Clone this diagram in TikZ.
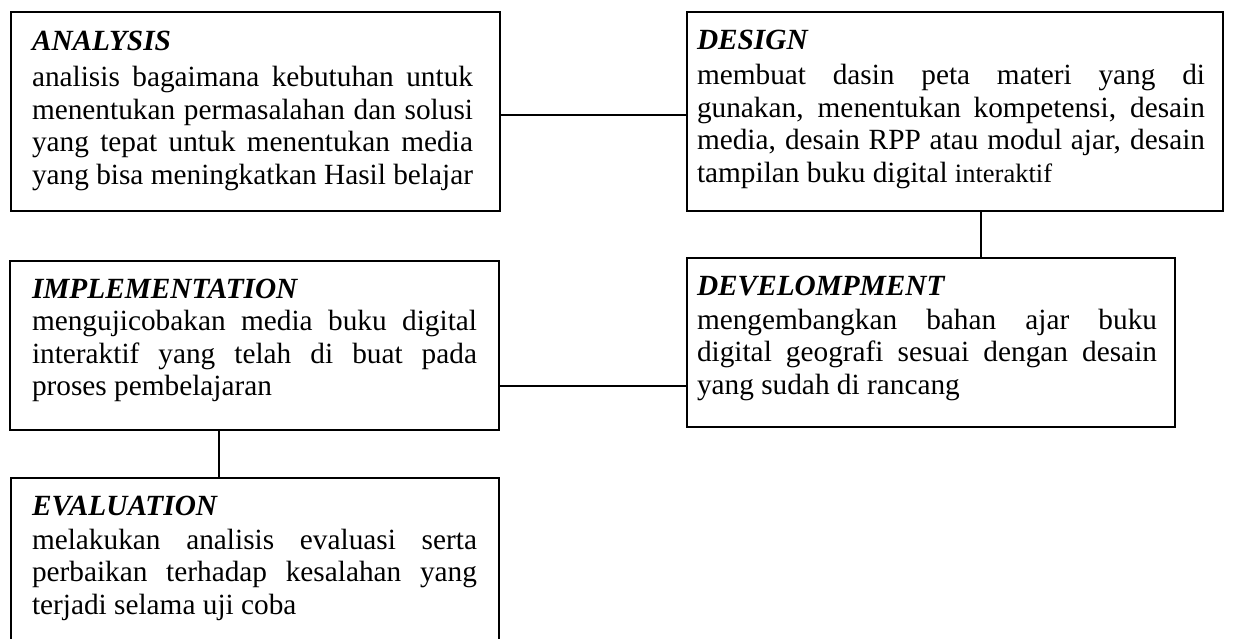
\documentclass[tikz,border=0pt]{standalone}
\usepackage{fontspec}
\setmainfont{Liberation Serif}
\hbadness=10000
\begin{document}
\begin{tikzpicture}[x=1pt,y=-1pt,
  stage/.style={draw, line width=1.8pt, inner sep=0pt, outer sep=0pt, anchor=north west},
  stagetext/.style={anchor=base west, inner sep=0pt, outer sep=0pt,
    font=\fontsize{29.3}{32.6}\selectfont},
  link/.style={line width=1.5pt}]
\useasboundingbox (0,0) rectangle (1233,638);

% stage boxes
\node[stage, minimum width=489pt, minimum height=199pt] (ana) at (11,12) {};
\node[stage, minimum width=536pt, minimum height=199pt] (des) at (687,12) {};
\node[stage, minimum width=489pt, minimum height=169pt] (imp) at (10,261) {};
\node[stage, minimum width=488pt, minimum height=169pt] (dev) at (687,258) {};
\node[stage, minimum width=488pt, minimum height=175pt] (eva) at (11,478) {};

% stage texts
\node[stagetext] (anaT) at ([shift={(21pt,-38pt)}]ana.north west) {\parbox[t]{441pt}{%
  {\bfseries\itshape ANALYSIS}\par\vspace{4pt}
  analisis bagaimana kebutuhan untuk\linebreak
  menentukan permasalahan dan solusi\linebreak
  yang tepat untuk menentukan media\linebreak
  yang bisa meningkatkan Hasil belajar}};
\node[stagetext] (desT) at ([shift={(10pt,-37pt)}]des.north west) {\parbox[t]{508pt}{%
  {\bfseries\itshape DESIGN}\par\vspace{3pt}
  membuat dasin peta materi yang di\linebreak
  gunakan, menentukan kompetensi, desain\linebreak
  media, desain RPP atau modul ajar, desain\linebreak
  tampilan buku digital {\fontsize{26.5}{32.6}\selectfont interaktif}}};
\node[stagetext] (impT) at ([shift={(22pt,-37pt)}]imp.north west) {\parbox[t]{445pt}{%
  {\bfseries\itshape IMPLEMENTATION}\par
  mengujicobakan media buku digital\linebreak
  interaktif yang telah di buat pada\linebreak
  proses pembelajaran}};
\node[stagetext] (devT) at ([shift={(10pt,-37pt)}]dev.north west) {\parbox[t]{460pt}{%
  {\bfseries\itshape DEVELOMPMENT}\par\vspace{1.5pt}
  mengembangkan bahan ajar buku\linebreak
  digital geografi sesuai dengan desain\linebreak
  yang sudah di rancang}};
\node[stagetext] (evaT) at ([shift={(21pt,-37pt)}]eva.north west) {\parbox[t]{445pt}{%
  {\bfseries\itshape EVALUATION}\par\vspace{1.5pt}
  melakukan analisis evaluasi serta\linebreak
  perbaikan terhadap kesalahan yang\linebreak
  terjadi selama uji coba}};

% connectors
\draw[link] ([yshift=-3.5pt]ana.east) -- ([yshift=-3.5pt]ana.east -| des.west);
\draw[link] ([xshift=50pt]dev.north) -- ([xshift=50pt]dev.north |- des.south);
\draw[link] ([yshift=-40.5pt]imp.east) -- ([yshift=-40.5pt]imp.east -| dev.west);
\draw[link] ([xshift=-35.5pt]imp.south) -- ([xshift=-35.5pt]imp.south |- eva.north);
\end{tikzpicture}
\end{document}
